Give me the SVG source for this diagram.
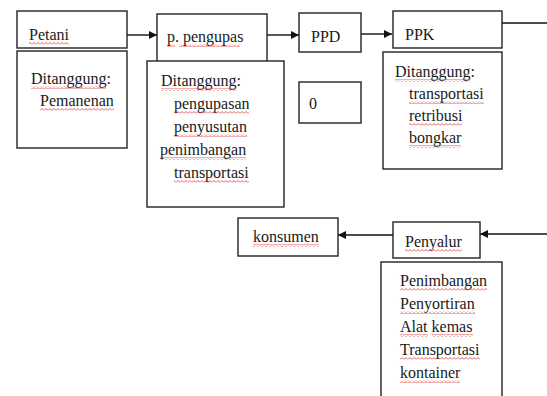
<svg xmlns="http://www.w3.org/2000/svg" width="547" height="396" viewBox="0 0 547 396">
<style>
.box{fill:#fff;stroke:#222;stroke-width:1.4}
.t{font-family:'Liberation Serif','DejaVu Serif',serif;font-size:16px;fill:#1a1a1a}
.sq{fill:url(#wavy)}
.ln{stroke:#111;stroke-width:1.4;fill:none}
</style>
<defs>
<pattern id="wavy" patternUnits="userSpaceOnUse" width="4" height="3">
<path d="M0,2.5 L2,0.5 L4,2.5" fill="none" stroke="#e03030" stroke-width="0.8"/>
</pattern>
<marker id="ah" viewBox="0 0 10 10" refX="10" refY="5" markerWidth="8" markerHeight="8" markerUnits="userSpaceOnUse" orient="auto">
<path d="M0,0 L10,5 L0,10 z" fill="#111"/>
</marker>
</defs>
<rect width="547" height="396" fill="#fff"/>

<g id="connectors">
<path class="ln" d="M127,35 L157,35" marker-end="url(#ah)"/>
<path class="ln" d="M267,35 L299,35" marker-end="url(#ah)"/>
<path class="ln" d="M361,34 L392,34" marker-end="url(#ah)"/>
<path class="ln" d="M502,23 L547,23"/>
<path class="ln" d="M547,234 L480,234" marker-end="url(#ah)"/>
<path class="ln" d="M393,235 L338,235" marker-end="url(#ah)"/>
</g>

<g id="petani">
<rect class="box" x="17" y="11" width="110" height="37"/>
<text class="t" x="29" y="40">Petani</text>
<rect class="sq" x="29" y="42" width="40" height="3"/>
</g>
<g id="petani-ditanggung">
<rect class="box" x="17" y="51" width="110" height="97"/>
<text class="t" x="31" y="84">Ditanggung:</text>
<rect class="sq" x="31" y="86" width="75" height="3"/>
<text class="t" x="40" y="106">Pemanenan</text>
<rect class="sq" x="40" y="108" width="74" height="3"/>
</g>

<g id="pengupas">
<rect class="box" x="157" y="14" width="110" height="60"/>
<text class="t" x="167" y="42">p. pengupas</text>
<rect class="sq" x="167" y="44" width="8" height="3"/>
<rect class="sq" x="179" y="44" width="61" height="3"/>
</g>
<g id="pengupas-ditanggung">
<rect class="box" x="147" y="61" width="137" height="146"/>
<text class="t" x="161" y="86">Ditanggung:</text>
<rect class="sq" x="161" y="88" width="75" height="3"/>
<text class="t" x="174" y="109">pengupasan</text>
<rect class="sq" x="174" y="111" width="75" height="3"/>
<text class="t" x="174" y="132">penyusutan</text>
<rect class="sq" x="174" y="134" width="73" height="3"/>
<text class="t" x="160" y="155">penimbangan</text>
<rect class="sq" x="160" y="157" width="86" height="3"/>
<text class="t" x="174" y="178">transportasi</text>
<rect class="sq" x="174" y="180" width="75" height="3"/>
</g>

<g id="ppd">
<rect class="box" x="299" y="13" width="62" height="39"/>
<text class="t" x="311" y="42">PPD</text>
</g>
<g id="ppd-nol">
<rect class="box" x="299" y="82" width="62" height="41"/>
<text class="t" x="309" y="109">0</text>
</g>

<g id="ppk">
<rect class="box" x="393" y="11" width="109" height="37"/>
<text class="t" x="405" y="40">PPK</text>
</g>
<g id="ppk-ditanggung">
<rect class="box" x="383" y="52" width="119" height="117"/>
<text class="t" x="395" y="77">Ditanggung:</text>
<rect class="sq" x="395" y="79" width="75" height="3"/>
<text class="t" x="409" y="99">transportasi</text>
<rect class="sq" x="409" y="101" width="75" height="3"/>
<text class="t" x="409" y="121">retribusi</text>
<rect class="sq" x="409" y="123" width="53" height="3"/>
<text class="t" x="409" y="143">bongkar</text>
<rect class="sq" x="409" y="145" width="52" height="3"/>
</g>

<g id="penyalur">
<rect class="box" x="393" y="222" width="87" height="36"/>
<text class="t" x="405" y="247">Penyalur</text>
<rect class="sq" x="405" y="249" width="57" height="3"/>
</g>
<g id="penyalur-list">
<rect class="box" x="381" y="262" width="121" height="140"/>
<text class="t" x="400" y="286">Penimbangan</text>
<rect class="sq" x="400" y="288" width="87" height="3"/>
<text class="t" x="400" y="309">Penyortiran</text>
<rect class="sq" x="400" y="311" width="75" height="3"/>
<text class="t" x="400" y="332">Alat kemas</text>
<rect class="sq" x="400" y="334" width="28" height="3"/>
<rect class="sq" x="432" y="334" width="41" height="3"/>
<text class="t" x="400" y="355">Transportasi</text>
<rect class="sq" x="400" y="357" width="80" height="3"/>
<text class="t" x="400" y="378">kontainer</text>
<rect class="sq" x="400" y="380" width="60" height="3"/>
</g>

<g id="konsumen">
<rect class="box" x="238" y="218" width="100" height="38"/>
<text class="t" x="253" y="242">konsumen</text>
<rect class="sq" x="253" y="244" width="66" height="3"/>
</g>
</svg>
